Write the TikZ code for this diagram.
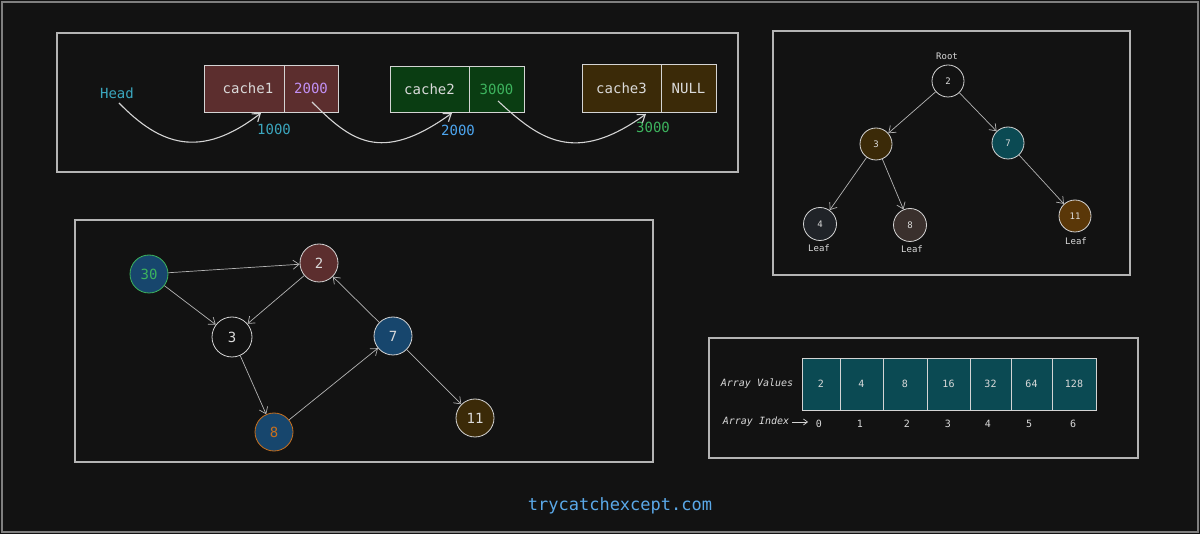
\documentclass[tikz,border=0pt]{standalone}
\usepackage{fontspec}
\setmonofont{DejaVu Sans Mono}
\setmainfont{DejaVu Sans Mono}
\usetikzlibrary{arrows.meta,calc}
\definecolor{bg}{HTML}{121212}
\definecolor{ln}{HTML}{D4D4D4}
\definecolor{fgt}{HTML}{DADADA}
\definecolor{teal}{HTML}{3BA6BE}
\definecolor{blu}{HTML}{4DA6F0}
\definecolor{grn}{HTML}{3DB45E}
\definecolor{purp}{HTML}{C291F5}
\definecolor{redf}{HTML}{5C2E2E}
\definecolor{grnf}{HTML}{0A3D12}
\definecolor{brnf}{HTML}{3B2A08}
\definecolor{brn2}{HTML}{5A3708}
\definecolor{tealf}{HTML}{0B4A53}
\definecolor{bluf}{HTML}{17466D}
\definecolor{grayf}{HTML}{202328}
\definecolor{gray2}{HTML}{3A302D}
\definecolor{orng}{HTML}{C8701E}
\definecolor{foot}{HTML}{5AA8E8}
\tikzset{
  frame/.style={draw=ln!85!black, line width=1.1pt},
  cell/.style={draw=ln, line width=0.9pt, minimum height=47pt, inner sep=0pt, text=fgt, font=\fontsize{14}{16}\selectfont},
  arr/.style={draw=ln, line width=1.1pt, -{Straight Barb[length=7pt,width=10pt]}},
  thin arr/.style={draw=ln!85!black, line width=0.7pt, -{Straight Barb[length=6pt,width=9pt]}},
  tnode/.style={circle, draw=ln, line width=0.8pt, minimum size=30pt, inner sep=0pt, text=fgt, font=\fontsize{9}{10}\selectfont},
  gnode/.style={circle, draw=ln, line width=0.8pt, minimum size=38pt, inner sep=0pt, text=fgt, font=\fontsize{14}{16}\selectfont},
  small/.style={text=fgt, font=\fontsize{9}{10}\selectfont, inner sep=0pt},
  acell/.style={draw=ln, line width=0.8pt, fill=tealf, minimum height=52pt, inner sep=0pt, text=fgt, font=\fontsize{10}{12}\selectfont},
  lab/.style={font=\fontsize{14}{16}\selectfont, inner sep=0pt},
}
\begin{document}
\begin{tikzpicture}[x=1pt,y=-1pt]
\useasboundingbox (0,0) rectangle (1200,534);
\fill[bg] (0,0) rectangle (1200,534);
\draw[ln!60!black, line width=1.2pt] (2,2) rectangle (1198,532);

% ---------- linked list ----------
\draw[frame] (57,33) rectangle (738,172);
\node[lab, text=teal] (head) at (117,93) {Head};
\node[cell, fill=redf, minimum width=80pt] (c1a) at (244,88.5) {\hspace*{8pt}cache1};
\node[cell, fill=redf, minimum width=54pt, text=purp] (c1b) at (311,88.5) {2000};
\node[cell, fill=grnf, minimum width=79pt, minimum height=46pt] (c2a) at (429.5,89) {cache2};
\node[cell, fill=grnf, minimum width=55pt, minimum height=46pt, text=grn] (c2b) at (496.5,89) {3000};
\node[cell, fill=brnf, minimum width=79pt, minimum height=48pt] (c3a) at (621.5,88) {cache3};
\node[cell, fill=brnf, minimum width=55pt, minimum height=48pt] (c3b) at (688.5,88) {NULL};
\node[lab, text=teal] (l1) at (274,129) {1000};
\node[lab, text=blu] (l2) at (458,130) {2000};
\node[lab, text=grn] (l3) at (653,127) {3000};
\coordinate (p1) at (119,103);
\coordinate (q1) at (261,113);
\coordinate (p2) at (312,102);
\coordinate (q2) at (452,113);
\coordinate (p3) at (498,101);
\coordinate (q3) at (646,114);
\draw[arr] (p1) .. controls (160,145) and (200,160) .. (q1);
\draw[arr] (p2) .. controls (350,140) and (380,165) .. (q2);
\draw[arr] (p3) .. controls (540,140) and (575,165) .. (q3);

% ---------- tree ----------
\draw[frame] (773,31) rectangle (1130,275);
\node[small] (root) at (947,56) {Root};
\node[tnode, fill=bg, minimum size=32pt] (t2) at (948,81) {2};
\node[tnode, fill=brnf, minimum size=32pt] (t3) at (876,144) {3};
\node[tnode, fill=tealf, minimum size=32pt] (t7) at (1008,143) {7};
\node[tnode, fill=grayf, minimum size=33pt] (t4) at (820,224) {4};
\node[tnode, fill=gray2, minimum size=33pt] (t8) at (910,225) {8};
\node[tnode, fill=brn2, minimum size=32pt] (t11) at (1075,216) {11};
\node[small] (lf1) at (819,248) {Leaf};
\node[small] (lf2) at (912,249) {Leaf};
\node[small] (lf3) at (1076,241) {Leaf};
\draw[thin arr] (t2) -- (t3);
\draw[thin arr] (t2) -- (t7);
\draw[thin arr] (t3) -- (t4);
\draw[thin arr] (t3) -- (t8);
\draw[thin arr] (t7) -- (t11);

% ---------- graph ----------
\draw[frame] (75,220) rectangle (653,462);
\node[gnode, fill=bluf, draw=grn, text=grn] (g30) at (149,274) {30};
\node[gnode, fill=redf] (g2) at (319,263) {2};
\node[gnode, fill=bg, minimum size=40pt] (g3) at (232,337) {3};
\node[gnode, fill=bluf] (g7) at (393,336) {7};
\node[gnode, fill=bluf, draw=orng, text=orng] (g8) at (274,432) {8};
\node[gnode, fill=brnf] (g11) at (475,418) {11};
\draw[thin arr] (g30) -- (g2);
\draw[thin arr] (g30) -- (g3);
\draw[thin arr] (g2) -- (g3);
\draw[thin arr] (g3) -- (g8);
\draw[thin arr] (g8) -- (g7);
\draw[thin arr] (g7) -- (g2);
\draw[thin arr] (g7) -- (g11);

% ---------- array ----------
\draw[frame] (709,338) rectangle (1138,458);
\node[small, font=\fontsize{10}{12}\itshape] (av) at (757,384) {Array Values};
\node[acell, minimum width=38pt] (a0) at (821,384) {2};
\node[acell, minimum width=43pt] (a1) at (861.5,384) {4};
\node[acell, minimum width=44pt] (a2) at (905,384) {8};
\node[acell, minimum width=43pt] (a3) at (948.5,384) {16};
\node[acell, minimum width=41pt] (a4) at (990.5,384) {32};
\node[acell, minimum width=41pt] (a5) at (1031.5,384) {64};
\node[acell, minimum width=44pt] (a6) at (1074,384) {128};
\node[small, font=\fontsize{10}{12}\itshape] (ai) at (756,422) {Array Index};
\coordinate (aiend) at (808,422);
\draw[ln, line width=0.7pt, -{Straight Barb[length=4pt,width=6pt]}] (ai.east) ++(3,0) -- (aiend);
\foreach \i/\x in {0/819,1/860,2/907,3/948,4/988,5/1029,6/1073}
  \node[small, font=\fontsize{10}{12}\selectfont] (ix\i) at (\x,424) {\i};

% ---------- footer ----------
\node[text=foot, font=\ttfamily\fontsize{17}{20}\selectfont, inner sep=0pt] (ft) at (620,506) {trycatchexcept.com};
\end{tikzpicture}
\end{document}
